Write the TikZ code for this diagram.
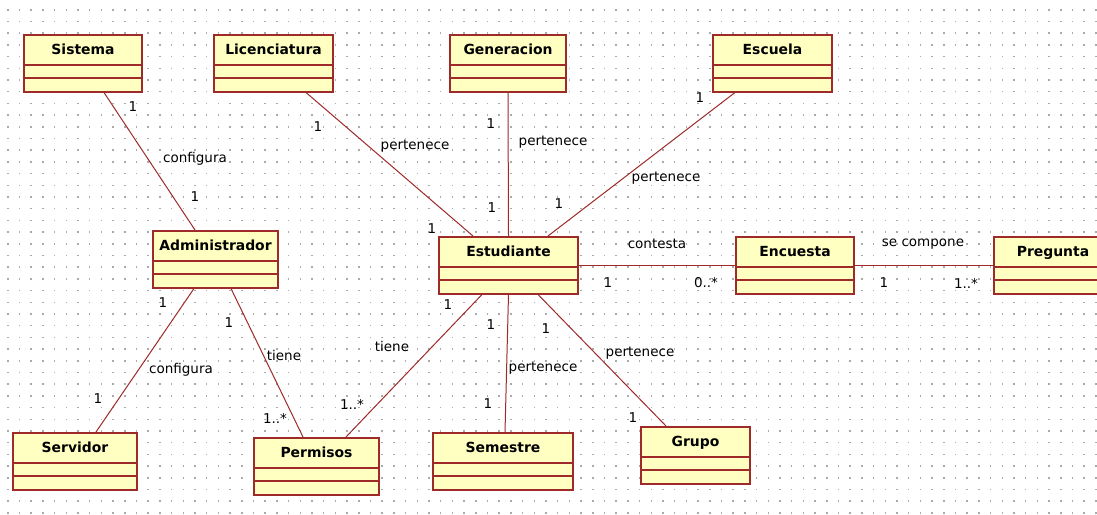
\documentclass[tikz,border=0pt]{standalone}
\usepackage{fontspec}
\setmainfont{DejaVu Sans}
\usetikzlibrary{calc}
\definecolor{umlfill}{RGB}{255,255,194}
\definecolor{umlline}{RGB}{158,42,42}
\definecolor{griddot}{RGB}{170,170,170}
\newdimen\px \px=0.025cm

\begin{document}
\begin{tikzpicture}[x=1\px, y=-1\px,
  cls/.style={draw=umlline, fill=umlfill, line width=1.5\px, anchor=north, inner sep=0pt,
    minimum height=57\px, text height=20\px, text depth=37\px,
    font=\fontsize{9.9}{12}\selectfont\bfseries},
  assoc/.style={draw=umlline, line width=1\px},
  lbl/.style={font=\fontsize{9.6}{11}\selectfont, inner sep=0pt}]
  \useasboundingbox (0,0) rectangle (1097,514);
  \clip (0,0) rectangle (1097,514);
  \fill[white] (0,0) rectangle (1097,514);
  % dotted grid
  \foreach \gx in {7,18.7,...,1097}
    \foreach \gy in {9,20.7,...,514}
      \fill[griddot] (\gx,\gy) rectangle ++(1.5,1.5);

  % classes
  \node[cls, minimum width=118\px] (sis) at (83,34) {Sistema};
  \node[cls, minimum width=119\px] (lic) at (273.5,34) {Licenciatura};
  \node[cls, minimum width=116\px] (gen) at (508,34) {Generacion};
  \node[cls, minimum width=119\px] (esc) at (772.5,34) {Escuela};
  \node[cls, minimum width=125\px] (adm) at (215.5,230) {Administrador};
  \node[cls, minimum width=139\px] (est) at (508.5,236) {Estudiante};
  \node[cls, minimum width=118\px] (enc) at (795,236) {Encuesta};
  \node[cls, minimum width=130\px] (pre) at (1059,236) {\hspace*{-12\px}Pregunta};
  \node[cls, minimum width=124\px] (srv) at (75,432) {Servidor};
  \node[cls, minimum width=125\px] (per) at (316.5,437) {Permisos};
  \node[cls, minimum width=140\px] (sem) at (503,432) {Semestre};
  \node[cls, minimum width=109\px] (gru) at (695.5,426) {Grupo};
  \foreach \c in {sis,lic,gen,esc,adm,est,enc,pre,srv,per,sem,gru} {
    \draw[umlline, line width=1.5\px] ($(\c.north west)+(0,31)$) -- ($(\c.north east)+(0,31)$);
    \draw[umlline, line width=1.5\px] ($(\c.north west)+(0,44)$) -- ($(\c.north east)+(0,44)$);
  }

  % associations
  \draw[assoc] ($(sis.south)+(21,0)$) -- ($(adm.north)+(-20.5,0)$);
  \draw[assoc] ($(lic.south)+(32.5,0)$) -- ($(est.north)+(-35.5,0)$);
  \draw[assoc] (gen.south) -- (est.north);
  \draw[assoc] ($(esc.south)+(-37.5,0)$) -- ($(est.north)+(39.5,0)$);
  \draw[assoc] (est.east) -- (enc.west);
  \draw[assoc] (enc.east) -- (pre.west);
  \draw[assoc] ($(adm.south)+(-21.5,0)$) -- ($(srv.north)+(21,0)$);
  \draw[assoc] ($(adm.south)+(15.5,0)$) -- ($(per.north)+(-13.5,0)$);
  \draw[assoc] ($(est.south)+(-26.5,0)$) -- ($(per.north)+(29.5,0)$);
  \draw[assoc] (est.south) -- ($(sem.north)+(2,0)$);
  \draw[assoc] ($(est.south)+(29.5,0)$) -- ($(gru.north)+(-29.5,0)$);

  % role names and multiplicities
  \node[lbl] (m1) at (133,107) {1};
  \node[lbl] (r1) at (195,159) {configura};
  \node[lbl] (m2) at (195,197) {1};
  \node[lbl] (m3) at (318,127) {1};
  \node[lbl] (r2) at (415,146) {pertenece};
  \node[lbl] (m4) at (432,229) {1};
  \node[lbl] (m5) at (491,124) {1};
  \node[lbl] (r3) at (553,142) {pertenece};
  \node[lbl] (m6) at (492,208) {1};
  \node[lbl] (m7) at (700,98) {1};
  \node[lbl] (r4) at (666,178) {pertenece};
  \node[lbl] (m8) at (559,204) {1};
  \node[lbl] (r5) at (657,244) {contesta};
  \node[lbl] (m9) at (608,283) {1};
  \node[lbl] (m10) at (706,283) {0..*};
  \node[lbl] (r6) at (923,244) {se compone};
  \node[lbl] (m11) at (884,283) {1};
  \node[lbl] (m12) at (966,283) {1..*};
  \node[lbl] (m13) at (163,303) {1};
  \node[lbl] (r7) at (181,370) {configura};
  \node[lbl] (m14) at (98,399) {1};
  \node[lbl] (m15) at (229,323) {1};
  \node[lbl] (r8) at (284,355) {tiene};
  \node[lbl] (m16) at (275,418) {1..*};
  \node[lbl] (m17) at (448,305) {1};
  \node[lbl] (r9) at (392,346) {tiene};
  \node[lbl] (m18) at (352,404) {1..*};
  \node[lbl] (m19) at (491,325) {1};
  \node[lbl] (r10) at (543,368) {pertenece};
  \node[lbl] (m20) at (488,404) {1};
  \node[lbl] (m21) at (546,329) {1};
  \node[lbl] (r11) at (640,353) {pertenece};
  \node[lbl] (m22) at (633,418) {1};
\end{tikzpicture}
\end{document}
